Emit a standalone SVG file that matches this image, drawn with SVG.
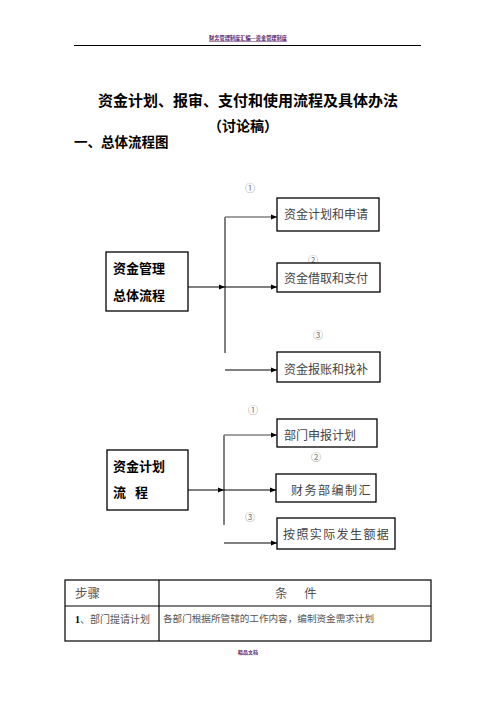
<svg xmlns="http://www.w3.org/2000/svg" width="496" height="702" viewBox="0 0 496 702">
<defs>
<marker id="ah" viewBox="0 0 6 6" refX="6" refY="3" markerWidth="6" markerHeight="6" markerUnits="userSpaceOnUse" orient="auto">
<path d="M0,0.5 L6,3 L0,5.5 z" fill="#000"/>
</marker>
</defs>
<style>
text{font-family:"Liberation Serif","Noto Sans CJK SC",serif;}
.box{fill:#fff;stroke:#000;stroke-width:1.3;}
.bt{font-size:12px;fill:#444;}
.bold{font-size:13px;font-weight:bold;fill:#000;}
.num{font-size:10px;fill:#777;}
.gl{stroke:#808080;stroke-width:2;fill:none;}
.gb{stroke:#808080;stroke-width:1.5;fill:none;}
.bl{stroke:#000;stroke-width:1;fill:none;}
.tl{stroke:#000;stroke-width:1.2;fill:none;}
</style>
<rect width="496" height="702" fill="#fff"/>
<g id="header">
<text x="248" y="40" text-anchor="middle" font-size="5.2" font-weight="bold" fill="#5a1a6a" text-decoration="underline">财务管理制度汇编—资金管理制度</text>
<line x1="74" y1="45.5" x2="421" y2="45.5" stroke="#000" stroke-width="1"/>
</g>
<g id="title">
<text x="248" y="106" text-anchor="middle" font-size="15" font-weight="bold" fill="#000">资金计划、报审、支付和使用流程及具体办法</text>
<text x="243" y="131" text-anchor="middle" font-size="14" font-weight="bold" fill="#000">（讨论稿）</text>
<text x="74" y="147" font-size="13.5" font-weight="bold" fill="#000">一、总体流程图</text>
</g>
<g id="connectors">
<line class="gl" x1="225" y1="217" x2="225" y2="353"/>
<line class="gb" x1="225" y1="217" x2="277" y2="217" marker-end="url(#ah)"/>
<line class="bl" x1="188" y1="287" x2="225" y2="287" marker-end="url(#ah)"/>
<line class="bl" x1="225" y1="287" x2="277" y2="287" marker-end="url(#ah)"/>
<line class="bl" x1="225" y1="370" x2="277" y2="370" marker-end="url(#ah)"/>
<line class="gl" x1="224" y1="435" x2="224" y2="525"/>
<line class="gb" x1="224" y1="435" x2="277" y2="435" marker-end="url(#ah)"/>
<line class="bl" x1="188" y1="490" x2="224" y2="490" marker-end="url(#ah)"/>
<line class="bl" x1="224" y1="490" x2="276" y2="490" marker-end="url(#ah)"/>
<line class="bl" x1="224" y1="543" x2="277" y2="543" marker-end="url(#ah)"/>
</g>
<g id="label1"><text class="num" x="250" y="192" text-anchor="middle">①</text></g>
<g id="n_fund_mgmt">
<rect class="box" x="106" y="252" width="82" height="59"/>
<text class="bold" x="113" y="273">资金管理</text>
<text class="bold" x="113" y="300">总体流程</text>
</g>
<g id="n_plan_apply">
<rect class="box" x="277" y="198" width="102" height="33"/>
<text class="bt" x="284" y="219">资金计划和申请</text>
</g>
<g id="label2"><text class="num" x="313" y="264" text-anchor="middle">②</text></g>
<g id="n_borrow_pay">
<rect class="box" x="277" y="263" width="103" height="29"/>
<text class="bt" x="284" y="283">资金借取和支付</text>
</g>
<g id="label3"><text class="num" x="318" y="339" text-anchor="middle">③</text></g>
<g id="n_reimburse">
<rect class="box" x="277" y="352" width="103" height="30"/>
<text class="bt" x="284" y="374">资金报账和找补</text>
</g>
<g id="label4"><text class="num" x="253" y="414" text-anchor="middle">①</text></g>
<g id="n_fund_plan">
<rect class="box" x="107" y="450" width="81" height="60"/>
<text class="bold" x="113" y="471">资金计划</text>
<text class="bold" x="113" y="497">流</text>
<text class="bold" x="135" y="497">程</text>
</g>
<g id="n_dept_report">
<rect class="box" x="277" y="419" width="100" height="28"/>
<text class="bt" x="284" y="440">部门申报计划</text>
</g>
<g id="label5"><text class="num" x="316" y="461" text-anchor="middle">②</text></g>
<g id="n_finance">
<rect class="box" x="276" y="474" width="100" height="28"/>
<text class="bt" x="291" y="495" letter-spacing="1.5">财务部编制汇</text>
</g>
<g id="label6"><text class="num" x="250" y="521" text-anchor="middle">③</text></g>
<g id="n_actual">
<rect class="box" x="277" y="518" width="118" height="31"/>
<text class="bt" x="283" y="539" letter-spacing="1.4">按照实际发生额据</text>
</g>
<g id="table">
<rect class="tl" x="65" y="580" width="366" height="61"/>
<line class="tl" x1="65" y1="606" x2="431" y2="606"/>
<line class="tl" x1="159" y1="580" x2="159" y2="641"/>
<text x="75" y="598" font-size="12.5" fill="#555">步骤</text>
<text x="275" y="598" font-size="12.5" fill="#555">条</text>
<text x="304" y="598" font-size="12.5" fill="#555">件</text>
<text x="75" y="623" font-size="10" fill="#555"><tspan font-weight="bold" fill="#000">1</tspan>、部门提请计划</text>
<text x="163" y="622" font-size="9.6" fill="#555">各部门根据所管辖的工作内容，编制资金需求计划</text>
</g>
<g id="footer">
<text x="248" y="654" text-anchor="middle" font-size="5" font-weight="bold" fill="#5a1a6a">精品文档</text>
</g>
</svg>
